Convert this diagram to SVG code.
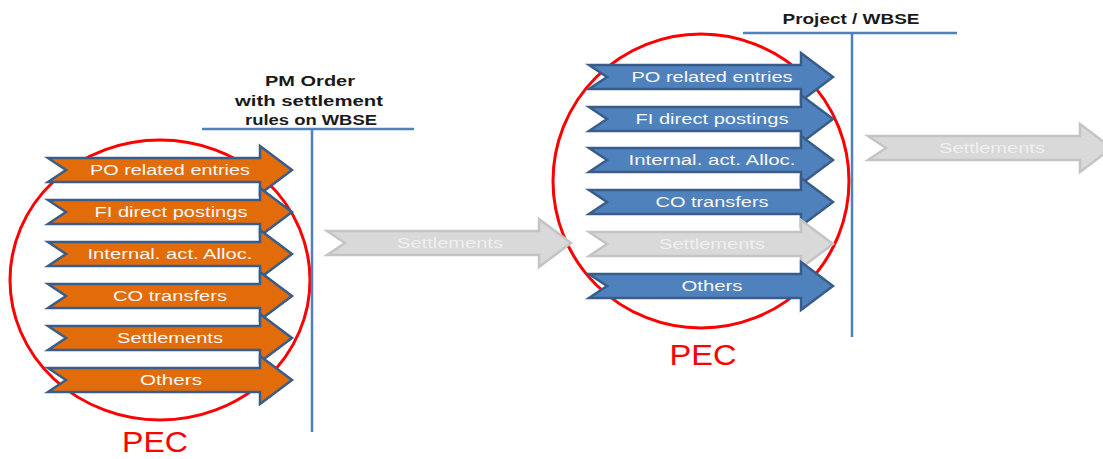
<svg xmlns="http://www.w3.org/2000/svg" xmlns:xlink="http://www.w3.org/1999/xlink" width="1103" height="459" viewBox="0 0 1103 459">
<style>
.orange{fill:#e36c0a;stroke:#385d8a;stroke-width:2.5;stroke-linejoin:miter}
.blue{fill:#4f81bd;stroke:#385d8a;stroke-width:2.5}
.gray{fill:#d9d9d9;stroke:#c4c4c4;stroke-width:2.5}
.lbl{font-family:"Liberation Sans","Open Sans",sans-serif;font-size:14px;fill:#f7f7f7;text-anchor:middle}
.glbl{font-family:"Liberation Sans","Open Sans",sans-serif;font-size:14px;fill:#efefef;text-anchor:middle}
.hdr{font-family:"Liberation Sans","Open Sans",sans-serif;font-size:14px;font-weight:bold;fill:#1a1a1a;text-anchor:middle}
.pec{font-family:"Liberation Sans","Open Sans",sans-serif;font-size:29px;fill:#ff0000;text-anchor:middle}
.ring{fill:none;stroke:#ff0000;stroke-width:3}
.bar{stroke:#4f81bd;stroke-width:2.5;fill:none}
</style>
<defs>
<path id="arr" d="M0,-12 H212 V-24 L244,0 L212,24 V12 H0 L18,0 Z"/>
</defs>
<rect width="1103" height="459" fill="#ffffff"/>

<g id="pec-left">
<ellipse class="ring" cx="160" cy="280" rx="150" ry="140"/>
<text class="pec" x="155" y="452" textLength="66" lengthAdjust="spacingAndGlyphs">PEC</text>
</g>

<g id="pm-order">
<line class="bar" x1="202" y1="129" x2="414" y2="129"/>
<line class="bar" x1="312" y1="129" x2="312" y2="432"/>
<text class="hdr" x="310" y="86" textLength="90" lengthAdjust="spacingAndGlyphs">PM Order</text>
<text class="hdr" x="309" y="106" textLength="148" lengthAdjust="spacingAndGlyphs">with settlement</text>
<text class="hdr" x="311" y="125" textLength="132" lengthAdjust="spacingAndGlyphs">rules on WBSE</text>
</g>

<g id="l-po"><use xlink:href="#arr" class="orange" x="48" y="170"/><text class="lbl" x="170" y="175" textLength="160" lengthAdjust="spacingAndGlyphs">PO related entries</text></g>
<g id="l-fi"><use xlink:href="#arr" class="orange" x="48" y="212"/><text class="lbl" x="171" y="217" textLength="153" lengthAdjust="spacingAndGlyphs">FI direct postings</text></g>
<g id="l-ia"><use xlink:href="#arr" class="orange" x="48" y="254"/><text class="lbl" x="170" y="259" textLength="165" lengthAdjust="spacingAndGlyphs">Internal. act. Alloc.</text></g>
<g id="l-co"><use xlink:href="#arr" class="orange" x="48" y="296"/><text class="lbl" x="170" y="301" textLength="114" lengthAdjust="spacingAndGlyphs">CO transfers</text></g>
<g id="l-st"><use xlink:href="#arr" class="orange" x="48" y="338"/><text class="lbl" x="170" y="343" textLength="106" lengthAdjust="spacingAndGlyphs">Settlements</text></g>
<g id="l-ot"><use xlink:href="#arr" class="orange" x="48" y="380"/><text class="lbl" x="171" y="385" textLength="62" lengthAdjust="spacingAndGlyphs">Others</text></g>

<g id="pec-right">
<ellipse class="ring" cx="701" cy="181" rx="148" ry="147"/>
<text class="pec" x="703" y="365" textLength="67" lengthAdjust="spacingAndGlyphs">PEC</text>
</g>

<g id="project-wbse">
<line class="bar" x1="743" y1="33" x2="957" y2="33"/>
<line class="bar" x1="852" y1="33" x2="852" y2="337"/>
<text class="hdr" x="851" y="24" textLength="137" lengthAdjust="spacingAndGlyphs">Project / WBSE</text>
</g>

<g id="connectors">
<g id="settle-mid"><use xlink:href="#arr" class="gray" x="327" y="243"/><text class="glbl" x="450" y="248" textLength="106" lengthAdjust="spacingAndGlyphs">Settlements</text></g>
<g id="settle-out"><use xlink:href="#arr" class="gray" x="868" y="148"/><text class="glbl" x="992" y="153" textLength="106" lengthAdjust="spacingAndGlyphs">Settlements</text></g>
</g>

<g id="r-po"><use xlink:href="#arr" class="blue" x="589" y="77"/><text class="lbl" x="712" y="82" textLength="161" lengthAdjust="spacingAndGlyphs">PO related entries</text></g>
<g id="r-fi"><use xlink:href="#arr" class="blue" x="589" y="119"/><text class="lbl" x="712" y="124" textLength="153" lengthAdjust="spacingAndGlyphs">FI direct postings</text></g>
<g id="r-ia"><use xlink:href="#arr" class="blue" x="589" y="160"/><text class="lbl" x="712" y="165" textLength="167" lengthAdjust="spacingAndGlyphs">Internal. act. Alloc.</text></g>
<g id="r-co"><use xlink:href="#arr" class="blue" x="589" y="202"/><text class="lbl" x="712" y="207" textLength="113" lengthAdjust="spacingAndGlyphs">CO transfers</text></g>
<g id="r-st"><use xlink:href="#arr" class="gray" x="589" y="244"/><text class="glbl" x="712" y="249" textLength="106" lengthAdjust="spacingAndGlyphs">Settlements</text></g>
<g id="r-ot"><use xlink:href="#arr" class="blue" x="589" y="286"/><text class="lbl" x="712" y="291" textLength="61" lengthAdjust="spacingAndGlyphs">Others</text></g>
</svg>
